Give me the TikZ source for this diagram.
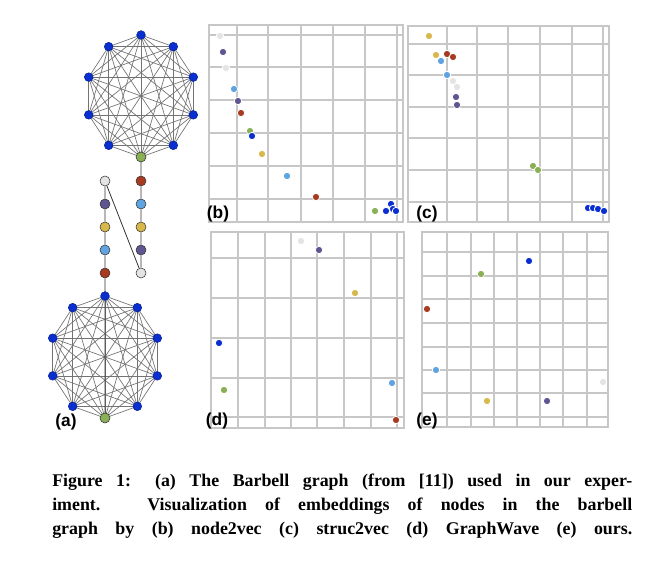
\documentclass[tikz,border=0pt]{standalone}
\usepackage{fontspec}
\setmainfont{Liberation Serif}
\newfontfamily\lblfont{Liberation Sans}
\usetikzlibrary{calc}
\begin{document}
\begin{tikzpicture}[x=0.75pt,y=-0.75pt,
  v/.style={circle,draw=black!80,line width=0.4pt,inner sep=0pt,minimum size=7.5pt},
  p/.style={circle,fill=#1,draw=white,line width=0.6pt,inner sep=0pt,minimum size=5.5pt},
  kedge/.style={draw=black!55,line width=0.5pt},
  grid/.style={draw=black!22,line width=1.4pt},
  lbl/.style={font=\lblfont\bfseries\fontsize{13}{13}\selectfont,inner sep=0pt},
  captxt/.style={anchor=west,inner sep=0pt,font=\bfseries\fontsize{13.4}{16}\selectfont}]
\definecolor{cB}{HTML}{0A2FD0}
\definecolor{cG}{HTML}{8AB055}
\definecolor{cR}{HTML}{A83A22}
\definecolor{cL}{HTML}{5FA3E0}
\definecolor{cY}{HTML}{D8B84A}
\definecolor{cP}{HTML}{5F5590}
\definecolor{cW}{HTML}{E4E4E4}
\useasboundingbox (0,0) rectangle (666,573);
\fill[white] (0,0) rectangle (666,573);
% top clique
\foreach \i in {0,...,9}{
  \pgfmathsetmacro\a{90+36*\i}
  \coordinate (T\i) at ($(141,96)+({55*cos(\a)},{-61*sin(\a)})$);}
\foreach \i in {0,...,9}{
  \pgfmathsetmacro\a{-90+36*\i}
  \coordinate (U\i) at ($(105,357)+({55*cos(\a)},{-61*sin(\a)})$);}
\foreach \i in {0,...,8}{\pgfmathtruncatemacro\s{\i+1}
  \foreach \j in {\s,...,9}{\draw[kedge] (T\i)--(T\j); \draw[kedge] (U\i)--(U\j);}}
% chain nodes
\node[v,fill=cR] (r1) at (141,181) {};
\node[v,fill=cL] (r2) at (141,204) {};
\node[v,fill=cY] (r3) at (141,227) {};
\node[v,fill=cP] (r4) at (141,250) {};
\node[v,fill=cW] (r5) at (141,273) {};
\node[v,fill=cW] (l1) at (105,181) {};
\node[v,fill=cP] (l2) at (105,204) {};
\node[v,fill=cY] (l3) at (105,227) {};
\node[v,fill=cL] (l4) at (105,250) {};
\node[v,fill=cR] (l5) at (105,273) {};
\draw[black!80,line width=0.6pt] (T5)--(r1)--(r2)--(r3)--(r4)--(r5)--(l1)--(l2)--(l3)--(l4)--(l5)--(U0);
\foreach \i in {0,...,9}{\node[v,fill=cB,draw=cB!70!black,minimum size=6.5pt] (t\i) at (T\i) {}; \node[v,fill=cB,draw=cB!70!black,minimum size=6.5pt] (u\i) at (U\i) {};}
\node[v,fill=cG] (tg) at (T5) {};
\node[v,fill=cG] (ug) at (U0) {};
\node[lbl] (la) at (66,422) {(a)};
% panel b
\foreach \x in {237,268,301,333,365,397}{\draw[grid] (\x,25)--(\x,222);}
\foreach \y in {35,67,100,133,166,199}{\draw[grid] (209,\y)--(403,\y);}
\draw[grid] (209,25) rectangle (403,222);
\foreach \x/\y/\c [count=\n] in {220/36/cW,223/52/cP,226/68/cW,234/89/cL,238/101/cP,241/113/cR,250/131/cG,252/136/cB,262/154/cY,287/176/cL,316/197/cR,375/211/cG,386/211/cB,391/204/cB,393/209/cB,396/211/cB}{\node[p=\c] (b\n) at (\x,\y) {};}
\node[lbl] (lb) at (218,214) {(b)};
% panel c
\foreach \x in {447,477,508,540,572,603}{\draw[grid] (\x,26)--(\x,222);}
\foreach \y in {44,75,107,138,170,202}{\draw[grid] (408,\y)--(609,\y);}
\draw[grid] (408,26) rectangle (609,222);
\foreach \x/\y/\c [count=\n] in {429/36/cY,436/55/cY,447/54/cR,453/57/cR,441/61/cL,447/75/cL,453/81/cW,457/87/cW,456/97/cP,457/105/cP,533/166/cG,538/170/cG,588/208/cB,593/208/cB,598/209/cB,604/211/cB}{\node[p=\c] (c\n) at (\x,\y) {};}
\node[lbl] (lc) at (427,214) {(c)};
% panel d
\foreach \x in {238,265,291,317,344,371,397}{\draw[grid] (\x,232)--(\x,428);}
\foreach \y in {258,298,338,378,417}{\draw[grid] (211,\y)--(404,\y);}
\draw[grid] (211,232) rectangle (404,428);
\foreach \x/\y/\c [count=\n] in {301/241/cW,319/250/cP,355/293/cY,219/343/cB,224/390/cG,392/383/cL,396/420/cR}{\node[p=\c] (d\n) at (\x,\y) {};}
\node[lbl] (ld) at (217,421) {(d)};
% panel e
\foreach \x in {447,471,494,517,540,563,587}{\draw[grid] (\x,232)--(\x,427);}
\foreach \y in {252,276,299,323,347,370,393,417}{\draw[grid] (422,\y)--(608,\y);}
\draw[grid] (422,232) rectangle (608,427);
\foreach \x/\y/\c [count=\n] in {529/261/cB,481/274/cG,427/309/cR,436/370/cL,603/382/cW,487/401/cY,547/401/cP}{\node[p=\c] (e\n) at (\x,\y) {};}
\node[lbl] (le) at (427,421) {(e)};
% caption
\node[captxt] (cap1) at (52,482) {\makebox[435pt][s]{Figure 1: (a) The Barbell graph (from [11]) used in our exper-}};
\node[captxt] (cap2) at (52,506) {\makebox[435pt][s]{iment. Visualization of embeddings of nodes in the barbell}};
\node[captxt] (cap3) at (52,530) {\makebox[435pt][s]{graph by (b) node2vec (c) struc2vec (d) GraphWave (e) ours.}};
\end{tikzpicture}
\end{document}
